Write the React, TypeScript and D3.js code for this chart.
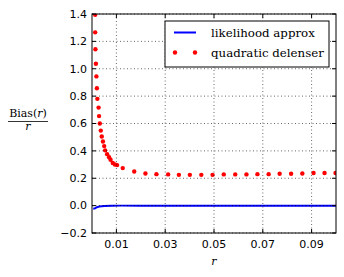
import React, { useEffect, useRef } from 'react';
import * as d3 from 'd3';

// r values and Bias(r)/r
const quadR = [
    0.0013, 0.0013, 0.0014, 0.0016, 0.0018, 0.0020, 0.0022, 0.0027, 0.0029, 0.0032,
    0.0036, 0.0040, 0.0045, 0.0050, 0.0054, 0.0062, 0.0070, 0.0076, 0.0085, 0.0094,
    0.0103, 0.0126, 0.0173, 0.0219, 0.0264, 0.0312, 0.0356, 0.0401, 0.0448, 0.0494,
    0.0540, 0.0587, 0.0633, 0.0678, 0.0724, 0.0769, 0.0816, 0.0862, 0.0908, 0.0953, 0.0998
];
const quadBias = [
    1.394, 1.266, 1.142, 1.037, 0.944, 0.858, 0.780, 0.716, 0.654, 0.600,
    0.548, 0.505, 0.468, 0.435, 0.404, 0.376, 0.353, 0.335, 0.311, 0.300,
    0.296, 0.274, 0.249, 0.235, 0.230, 0.228, 0.225, 0.225, 0.225, 0.225,
    0.228, 0.228, 0.228, 0.230, 0.230, 0.233, 0.233, 0.235, 0.238, 0.238, 0.238
];
const likeR = [0.0005, 0.0013, 0.002, 0.003, 0.005, 0.008, 0.012, 0.02, 0.04, 0.06, 0.08, 0.1];
const likeBias = [-0.022, -0.02, -0.012, -0.007, -0.003, -0.001, 0, 0, 0, 0, 0, 0];

const xTicks = [0.01, 0.03, 0.05, 0.07, 0.09];
const yTicks = [-0.2, 0.0, 0.2, 0.4, 0.6, 0.8, 1.0, 1.2, 1.4];
const legendLabels = ['likelihood approx', 'quadratic delenser'];

const App: React.FC = () => {
    const ref = useRef<SVGSVGElement>(null);

    useEffect(() => {
        if (!ref.current) return;
        const svg = d3.select(ref.current);
        svg.selectAll('*').remove();

        const width = 344;
        const height = 277;
        const margin = { top: 14, right: 8, bottom: 44, left: 92 };
        const innerW = width - margin.left - margin.right;
        const innerH = height - margin.top - margin.bottom;

        svg.attr('width', width).attr('height', height);
        svg.append('rect').attr('width', width).attr('height', height).attr('fill', '#fff');

        const x = d3.scaleLinear().domain([0, 0.1]).range([0, innerW]);
        const y = d3.scaleLinear().domain([-0.2, 1.4]).range([innerH, 0]);

        svg.append('defs').append('clipPath').attr('id', 'plotclip')
            .append('rect').attr('width', innerW).attr('height', innerH);

        const g = svg.append('g').attr('transform', `translate(${margin.left},${margin.top})`);
        const plot = g.append('g').attr('clip-path', 'url(#plotclip)');

        // likelihood line
        const line = d3.line<number>()
            .x((_, i) => x(likeR[i]))
            .y(d => y(d));
        plot.append('path')
            .datum(likeBias)
            .attr('d', line)
            .attr('fill', 'none')
            .attr('stroke', '#0000ff')
            .attr('stroke-width', 2);

        // grid
        const grid = g.append('g')
            .attr('stroke', '#000')
            .attr('stroke-width', 0.6)
            .attr('stroke-dasharray', '1,2.5');
        xTicks.forEach(t => {
            grid.append('line').attr('x1', x(t)).attr('x2', x(t)).attr('y1', 0).attr('y2', innerH);
        });
        yTicks.forEach(t => {
            grid.append('line').attr('x1', 0).attr('x2', innerW).attr('y1', y(t)).attr('y2', y(t));
        });

        // quadratic delenser points
        plot.selectAll('.dot')
            .data(quadBias)
            .enter()
            .append('circle')
            .attr('class', 'dot')
            .attr('cx', (_, i) => x(quadR[i]))
            .attr('cy', d => y(d))
            .attr('r', 2.2)
            .attr('fill', '#ff0000');

        // frame
        g.append('rect')
            .attr('width', innerW).attr('height', innerH)
            .attr('fill', 'none').attr('stroke', '#000').attr('stroke-width', 1);

        // inward ticks on all sides
        const ticks = g.append('g').attr('stroke', '#000').attr('stroke-width', 1);
        xTicks.forEach(t => {
            ticks.append('line').attr('x1', x(t)).attr('x2', x(t)).attr('y1', innerH).attr('y2', innerH - 4);
            ticks.append('line').attr('x1', x(t)).attr('x2', x(t)).attr('y1', 0).attr('y2', 4);
        });
        yTicks.forEach(t => {
            ticks.append('line').attr('x1', 0).attr('x2', 4).attr('y1', y(t)).attr('y2', y(t));
            ticks.append('line').attr('x1', innerW).attr('x2', innerW - 4).attr('y1', y(t)).attr('y2', y(t));
        });

        const tickFont = 'DejaVu Sans, sans-serif';
        g.selectAll('.xlabel')
            .data(xTicks)
            .enter()
            .append('text')
            .attr('x', d => x(d))
            .attr('y', innerH + 15)
            .attr('text-anchor', 'middle')
            .attr('font-family', tickFont)
            .attr('font-size', 11)
            .text(d => d3.format('.2f')(d));

        g.selectAll('.ylabel')
            .data(yTicks)
            .enter()
            .append('text')
            .attr('x', -5)
            .attr('y', d => y(d))
            .attr('dy', '0.35em')
            .attr('text-anchor', 'end')
            .attr('font-family', tickFont)
            .attr('font-size', 11)
            .text(d => d3.format('.1f')(d).replace('-', '\u2212'));

        // axis labels
        const serif = 'DejaVu Serif, serif';
        svg.append('text')
            .attr('x', margin.left + innerW / 2)
            .attr('y', 265)
            .attr('text-anchor', 'middle')
            .attr('font-family', serif)
            .attr('font-style', 'italic')
            .attr('font-size', 11)
            .text('r');

        const frac = svg.append('g').attr('font-family', serif).attr('font-size', 11);
        const bias = frac.append('text')
            .attr('x', 28)
            .attr('y', 117)
            .attr('text-anchor', 'middle');
        bias.append('tspan').text('Bias(');
        bias.append('tspan').attr('font-style', 'italic').text('r');
        bias.append('tspan').text(')');
        frac.append('line')
            .attr('x1', 8).attr('x2', 48).attr('y1', 121.5).attr('y2', 121.5)
            .attr('stroke', '#000').attr('stroke-width', 0.8);
        frac.append('text')
            .attr('x', 28).attr('y', 130)
            .attr('text-anchor', 'middle')
            .attr('font-style', 'italic')
            .text('r');

        // legend
        const leg = svg.append('g').attr('transform', 'translate(165,21)');
        leg.append('rect')
            .attr('width', 164).attr('height', 46)
            .attr('fill', '#fff').attr('stroke', '#000').attr('stroke-width', 1);
        leg.append('line')
            .attr('x1', 9).attr('x2', 31).attr('y1', 11.5).attr('y2', 11.5)
            .attr('stroke', '#0000ff').attr('stroke-width', 2);
        [10, 30].forEach(cx => {
            leg.append('circle').attr('cx', cx).attr('cy', 31.5).attr('r', 2.2).attr('fill', '#ff0000');
        });
        legendLabels.forEach((lab, i) => {
            leg.append('text')
                .attr('x', 46)
                .attr('y', 11.5 + i * 20)
                .attr('dy', '0.35em')
                .attr('font-family', serif)
                .attr('font-size', 11.8)
                .text(lab);
        });
    }, []);

    return (
        <div style={{ position: 'fixed', left: 0, top: 0 }}>
            <svg ref={ref} style={{ display: 'block' }}></svg>
        </div>
    );
};

export default App;
